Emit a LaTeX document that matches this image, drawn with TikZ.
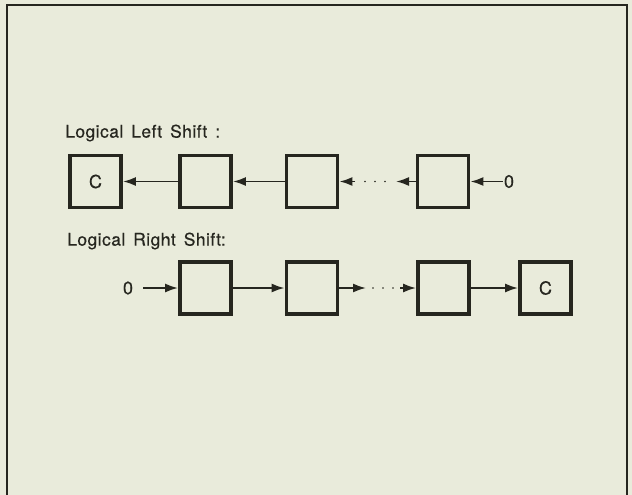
\documentclass[tikz,border=0pt]{standalone}
\usepackage{fontspec}
\setmainfont{TeX Gyre Heros}[FakeBold=0.4]
\newfontfamily\lblfont[LetterSpace=2.5,WordSpace=1.5,FakeBold=0.4]{TeX Gyre Heros}
\usetikzlibrary{arrows.meta}
\definecolor{bg}{HTML}{E9EBDB}
\definecolor{ink}{HTML}{26261F}
\tikzset{
  reg/.style={draw=ink, line width=3.8pt, minimum width=51pt, minimum height=52pt, inner sep=0pt, font=\fontsize{18}{21}\selectfont, text=ink},
  lbl/.style={anchor=west, inner sep=0pt, font=\lblfont\fontsize{17.5}{21}\selectfont, text=ink},
  zero/.style={inner sep=1pt, font=\fontsize{18}{21}\selectfont, text=ink},
  arr/.style={draw=ink, line width=1.9pt, -{Latex[length=13pt,width=9pt]}},
  dots/.style={draw=ink, line width=1.9pt, line cap=round, dash pattern=on 0pt off 10pt},
}
\begin{document}
\begin{tikzpicture}[x=1pt,y=-1pt]
\useasboundingbox (0,0) rectangle (632,495);
\fill[bg] (0,0) rectangle (632,495);
\draw[ink, line width=2pt] (7,497) -- (7,5) -- (627,5) -- (627,497);

\node[lbl] (tl) at (65,133) {Logical Left Shift :};
\node[reg] (l1) at (95.5,181.5) {C};
\node[reg] (l2) at (205.5,181.5) {};
\node[reg] (l3) at (312,181.5) {};
\node[reg] (l4) at (443,181.5) {};
\node[zero] (z1) at (509,181.5) {0};
\coordinate (la) at (396,181.5);
\coordinate (lb) at (355,181.5);
\coordinate (lda) at (385,181.5);
\coordinate (ldb) at (364,181.5);
\draw[arr] (z1) -- (l4.east);
\draw[arr] (l4.west) -- (la);
\draw[dots] (lda) -- (ldb);
\draw[arr] (lb) -- (l3.east);
\draw[arr] (l3.west) -- (l2.east);
\draw[arr] (l2.west) -- (l1.east);

\node[lbl] (tr) at (67,241) {Logical Right Shift:};
\node[zero] (z2) at (128,288) {0};
\node[reg] (r1) at (205.5,288) {};
\node[reg] (r2) at (312,288) {};
\node[reg] (r3) at (443.5,288) {};
\node[reg] (r4) at (545.5,288) {C};
\coordinate (ra) at (366,288);
\coordinate (rb) at (400,288);
\coordinate (rda) at (373,288);
\coordinate (rdb) at (394,288);
\draw[arr, shorten <=9pt] (z2) -- (r1.west);
\draw[arr] (r1.east) -- (r2.west);
\draw[arr] (r2.east) -- (ra);
\draw[dots] (rda) -- (rdb);
\draw[arr] (rb) -- (r3.west);
\draw[arr] (r3.east) -- (r4.west);
\end{tikzpicture}
\end{document}
